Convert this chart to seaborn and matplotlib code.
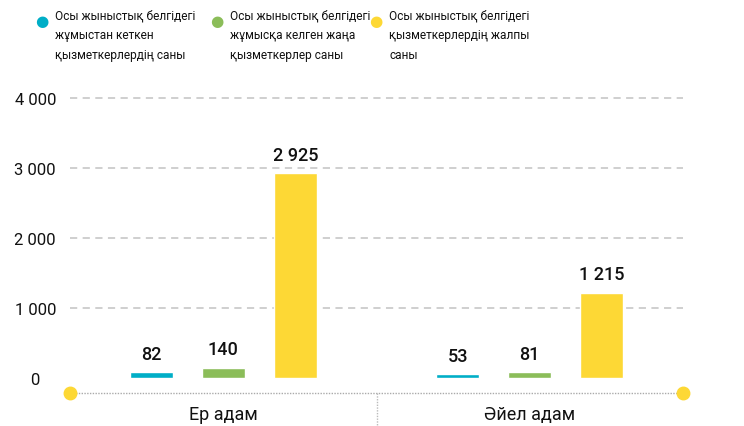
import seaborn as sns
import numpy as np
import matplotlib.pyplot as plt
import pandas as pd

categories = ["Ер адам", "Әйел адам"]
series_names = [
    "Осы жыныстық белгідегі\nжұмыстан кеткен\nқызметкерлердің саны",
    "Осы жыныстық белгідегі\nжұмысқа келген жаңа\nқызметкерлер саны",
    "Осы жыныстық белгідегі\nқызметкерлердің жалпы\nсаны",
]
left_values = [82, 53]
joined_values = [140, 81]
total_values = [2925, 1215]
y_ticks = [0, 1000, 2000, 3000, 4000]

colors = ["#00aec7", "#8bbd59", "#fdd835"]


def fmt(v):
    return f"{v:,}".replace(",", " ")


rows = []
for i, cat in enumerate(categories):
    for name, vals in zip(series_names, [left_values, joined_values, total_values]):
        rows.append({"cat": cat, "series": name, "value": vals[i]})
df = pd.DataFrame(rows)

sns.set_style("white")
plt.rcParams["font.family"] = ["Roboto", "DejaVu Sans"]

fig = plt.figure(figsize=(7.44, 4.27), dpi=100)
ax = fig.add_axes([70 / 744, 1 - 394 / 427, 613 / 744, 295 / 427])

sns.barplot(
    data=df, x="cat", y="value", hue="series", hue_order=series_names,
    palette=colors, width=0.705, gap=0.404, saturation=1, ax=ax, legend=False,
)

ax.set_xlim(-0.5, 1.5)
ax.set_ylim(-214, 4000)

# value labels
for container in ax.containers:
    ax.bar_label(container, labels=[fmt(int(v)) for v in container.datavalues],
                 padding=7, fontsize=13, fontweight="medium", color="#111111")

# grid
for t in y_ticks[1:]:
    ax.axhline(t, color="#cccccc", lw=1.3, ls=(0, (4, 3)), zorder=0, clip_on=False)

for s in ["top", "right", "left", "bottom"]:
    ax.spines[s].set_visible(False)

# bottom dotted axis with yellow dots
ax.plot([-0.5, 1.5], [-214, -214], color="#aaaaaa", lw=1, ls=(0, (1, 1)), clip_on=False)
ax.plot([-0.5, 1.5], [-214, -214], "o", color="#fdd835", ms=9, clip_on=False, zorder=5)
ax.plot([0.5, 0.5], [-214, -214 - 33 / 70 * 1000 * 1.0], color="#bbbbbb", lw=1,
        ls=(0, (1, 1)), clip_on=False)

ax.set_yticks(y_ticks)
ax.set_yticklabels([fmt(t) for t in y_ticks], fontsize=12, color="#111111", ha="center")
ax.tick_params(axis="y", length=0, pad=25)
ax.set_xticks([0, 1])
ax.set_xticklabels(categories, fontsize=13, color="#111111")
ax.tick_params(axis="x", length=0, pad=9)
ax.set_xlabel("")
ax.set_ylabel("")

# legend
leg_x = [42, 217, 376]
for x, name, c in zip(leg_x, series_names, colors):
    fig.text(x / 744, 1 - 22 / 427, "●", color=c, fontsize=11, ha="center", va="center",
             family=["DejaVu Sans"])
    fig.text((x + 13) / 744, 1 - 10 / 427, name, fontsize=8.6, ha="left", va="top",
             linespacing=1.65, color="#111111")

plt.savefig("out.png", dpi=100)
